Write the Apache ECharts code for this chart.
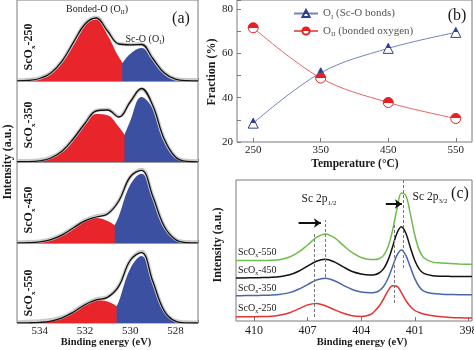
<!DOCTYPE html>
<html>
<head>
<meta charset="utf-8">
<script src="https://cdn.jsdelivr.net/npm/echarts@6.0.0/dist/echarts.min.js"></script>
<style>
html, body { margin: 0; padding: 0; background: #fff; }
#chart { width: 474px; height: 350px; }
</style>
</head>
<body>
<div id="chart"></div>
<script>
const SERIF = '"Liberation Serif", "Times New Roman", serif'
const INK = '#1a1a1a'
const FRAME = '#7a7a7a'

// ---------- panel (a): O 1s fits ----------
const energyA = [535, 534.5, 534, 533.5, 533, 532.5, 532, 531.5, 531, 530.5, 530, 529.5, 529, 528.5, 528, 527.5, 527]

const red250 = [0.1, 0.6, 2.4, 8, 20, 38.5, 56, 61.5, 46, 24, 9, 3.5, 1, 0.3, 0.1, 0, 0]
const blue250 = [[530.35, 17.5], [530, 27], [529.5, 33], [529, 21.5], [528.5, 8], [528, 1.8], [527.5, 0.3], [527, 0]]
const fit250 = [0.2, 0.7, 2.5, 8.1, 20.2, 38.8, 56.8, 63, 50, 37, 36.2, 36.5, 22.5, 8.3, 1.9, 0.3, 0.1]
const raw250 = [0.8, 1.5, 3, 8.5, 20.5, 39, 57.5, 63.8, 50.5, 37.2, 36.5, 37, 22.8, 8.6, 2.3, 1.2, 1.3]

const red350 = [0.2, 0.3, 1.1, 3.9, 10.9, 23.1, 38, 48, 46.8, 35.1, 20.3, 9.1, 3.1, 0.8, 0.2, 0, 0]
const blue350 = [[530.25, 27], [530, 40.8], [529.5, 65.1], [529, 53.3], [528.5, 22.4], [528, 4.8], [527.5, 0.5], [527, 0]]
const fit350 = [0.3, 0.4, 1.2, 4, 11, 23.5, 38.5, 51, 52, 45, 60, 73.5, 56.5, 23.2, 5, 0.6, 0.1]
const raw350 = [1.5, 1.2, 2, 4.8, 11.5, 24, 39, 51.5, 52.5, 45.5, 60, 73, 57, 23.5, 5.5, 1.5, 1]

const red450 = [0.1, 0.3, 1.1, 3.4, 8.1, 15.2, 22.1, 25, 22.1, 15.2, 8.1, 3.4, 1.1, 0.3, 0.05, 0, 0]
const blue450 = [[530.68, 17.8], [530.5, 26.8], [530, 57.9], [529.5, 69.2], [529, 45.7], [528.5, 16.7], [528, 3.4], [527.5, 0.4], [527, 0]]
const fit450 = [0.1, 0.3, 1.1, 3.4, 8.1, 15.2, 22.2, 26, 29, 42, 66, 72.6, 46.8, 17, 3.5, 0.4, 0.05]
const raw450 = [0.8, 1.2, 1.8, 4, 8.8, 15.8, 23, 27, 29.5, 42.5, 66, 73.5, 47.5, 17.5, 4.2, 1.3, 1]

const red550 = [0, 0.1, 0.5, 1.8, 5.1, 11, 18.2, 22.7, 21.5, 15.4, 8.4, 3.4, 1.1, 0.3, 0.05, 0, 0]
const blue550 = [[530.6, 16.6], [530.5, 21.4], [530, 54.1], [529.5, 67], [529, 40.7], [528.5, 12.1], [528, 1.7], [527.5, 0.1], [527, 0]]
const fit550 = [0.1, 0.2, 0.6, 1.9, 5.2, 11, 18.3, 23.1, 25.6, 36.8, 62.5, 70.4, 41.8, 12.4, 1.8, 0.1, 0]
const raw550 = [0.8, 1.5, 2, 3.2, 6, 11.8, 19, 24, 26.2, 37.3, 62.5, 71.5, 42.5, 13, 2.4, 1, 0.8]

const subLabels = ['250', '350', '450', '550']
const ticksA = [534, 532, 530, 528]

// ---------- panel (b): fractions ----------
const temps = [250, 350, 450, 550]
const fracOI = [28.5, 51.2, 62.2, 69.4]
const fracOII = [71.5, 48.8, 37.8, 30.6]

// ---------- panel (c): Sc 2p ----------
const energyC = [411, 410.5, 410, 409.5, 409, 408.5, 408, 407.5, 407, 406.5, 406, 405.5, 405, 404.5, 404, 403.5, 403.25, 403, 402.75, 402.5, 402.25, 402, 401.75, 401.5, 401.25, 401, 400.75, 400.5, 400, 399.5, 399, 398.5, 398, 397.8]
const sc250 = [4.2, 4.3, 4.3, 4.4, 4.8, 6.0, 8.3, 12.1, 16.1, 17.6, 15.3, 11.3, 7.8, 5.3, 4.6, 6.2, 9.7, 14.7, 22, 30.1, 35.3, 34.8, 28.4, 20.5, 14.5, 10.5, 8.5, 7, 5.2, 4.2, 3.6, 3.2, 3, 3]
const sc350 = [25.3, 25.4, 25.5, 25.7, 26.0, 26.8, 28.4, 31.7, 36.4, 41.0, 42.8, 40.3, 35.7, 31.5, 29.0, 28.2, 28.6, 30.2, 34.5, 42.5, 54.0, 65.7, 71.0, 65.6, 53.9, 42.4, 34.3, 29.9, 27.4, 26.8, 26.5, 26.3, 26.3, 26.3]
const sc450 = [42.9, 43.1, 43.2, 43.4, 43.7, 44.5, 46.2, 49.8, 54.8, 59.8, 61.8, 59.1, 54.1, 49.5, 47.0, 46.1, 46.3, 48.0, 52.1, 60.6, 73.7, 87.8, 94.2, 87.7, 73.6, 60.5, 51.9, 47.7, 45.3, 44.8, 44.6, 44.5, 44.4, 44.4]
const sc550 = [60.5, 60.5, 60.4, 60.5, 60.7, 61.6, 64.0, 68.8, 76.0, 83.6, 87.1, 83.4, 75.6, 68.3, 63.5, 61.4, 61.4, 62.2, 65.4, 74.1, 90.1, 111.7, 128.1, 125.5, 107.3, 85.8, 70.9, 63.3, 58.9, 58.0, 57.4, 57.0, 56.7, 56.6]
const ticksC = [398, 401, 404, 407, 410]
// peak guides: [energy, from, to]
const guideLines = [[406.65, 4, 88], [406.0, 44, 101], [402.15, 18, 98], [401.63, 53, 141]]
// shift arrows: [from energy, to energy, height]
const shiftArrows = [[407.5, 406.25, 98], [402.62, 401.72, 117]]

const chart = echarts.init(document.getElementById('chart'))

const gridsA = [
  { top: 0, height: 81 },
  { top: 81, height: 81 },
  { top: 162, height: 81 },
  { top: 243, height: 80 },
]
const panelsA = [
  { red: red250, blue: blue250, fit: fit250, raw: raw250 },
  { red: red350, blue: blue350, fit: fit350, raw: raw350 },
  { red: red450, blue: blue450, fit: fit450, raw: raw450 },
  { red: red550, blue: blue550, fit: fit550, raw: raw550 },
]

const grid = []
const xAxis = []
const yAxis = []
const series = []

gridsA.forEach((g, i) => {
  grid.push({ left: 17, width: 181, top: g.top, height: g.height, show: true, borderColor: FRAME, borderWidth: 1, outerBoundsMode: 'none' })
  xAxis.push({
    gridIndex: i, type: 'value', min: 527, max: 535, interval: 1, inverse: true,
    axisLine: { show: false }, splitLine: { show: false },
    axisTick: { inside: true, length: 3, lineStyle: { color: FRAME } },
    axisLabel: {
      show: i === 3, margin: 3, fontSize: 11, fontFamily: SERIF, color: INK,
      formatter: v => (ticksA.includes(v) ? String(v) : ''),
    },
  })
  yAxis.push({ gridIndex: i, type: 'value', min: 0, max: g.height, show: false })
  const p = panelsA[i]
  series.push({
    type: 'line', xAxisIndex: i, yAxisIndex: i, smooth: 0.4, symbol: 'none', silent: true,
    data: energyA.map((e, k) => [e, p.red[k]]),
    lineStyle: { width: 0, opacity: 0 }, areaStyle: { color: '#e8252a', opacity: 1 },
  })
  series.push({
    type: 'line', xAxisIndex: i, yAxisIndex: i, smooth: 0.4, symbol: 'none', silent: true,
    data: p.blue,
    lineStyle: { width: 0, opacity: 0 }, areaStyle: { color: '#3c50a2', opacity: 1 },
  })
  series.push({
    type: 'line', xAxisIndex: i, yAxisIndex: i, smooth: 0.4, symbol: 'none', silent: true,
    data: energyA.map((e, k) => [e, p.raw[k]]),
    lineStyle: { color: '#cbcbcb', width: 3.5 },
  })
  series.push({
    type: 'line', xAxisIndex: i, yAxisIndex: i, smooth: 0.4, symbol: 'none', silent: true,
    data: energyA.map((e, k) => [e, p.fit[k]]),
    lineStyle: { color: '#111', width: 1.3 },
  })
})

// panel (b)
grid.push({ left: 237, width: 235, top: 0, height: 142, show: true, borderColor: FRAME, borderWidth: 1, outerBoundsMode: 'none' })
xAxis.push({
  gridIndex: 4, type: 'value', min: 226, max: 574,
  axisLine: { show: false }, splitLine: { show: false },
  axisTick: { inside: true, length: 4, customValues: temps, lineStyle: { color: FRAME } },
  axisLabel: { customValues: temps, margin: 3, fontSize: 11, fontFamily: SERIF, color: INK },
})
yAxis.push({
  gridIndex: 4, type: 'value', min: 20, max: 84, interval: 10,
  axisLine: { show: false }, splitLine: { show: false },
  axisTick: { inside: true, length: 4, lineStyle: { color: FRAME } },
  axisLabel: { margin: 4, fontSize: 11, fontFamily: SERIF, color: INK, formatter: v => (v % 20 === 0 ? String(v) : '') },
})

function halfFill(c) {
  return new echarts.graphic.LinearGradient(0, 0, 0, 1, [
    { offset: 0, color: c }, { offset: 0.5, color: c },
    { offset: 0.5, color: '#fff' }, { offset: 1, color: '#fff' },
  ])
}

series.push({
  name: 'OI', type: 'line', xAxisIndex: 4, yAxisIndex: 4, smooth: 0.35,
  data: temps.map((t, k) => [t, fracOI[k]]),
  symbol: 'triangle', symbolSize: 10,
  lineStyle: { color: '#7483bb', width: 1 },
  itemStyle: { color: halfFill('#2d3f94'), borderColor: '#2d3f94', borderWidth: 1 },
})
series.push({
  name: 'OII', type: 'line', xAxisIndex: 4, yAxisIndex: 4, smooth: 0.35,
  data: temps.map((t, k) => [t, fracOII[k]]),
  symbol: 'circle', symbolSize: 10,
  lineStyle: { color: '#e56565', width: 1 },
  itemStyle: { color: halfFill('#e42222'), borderColor: '#e42222', borderWidth: 1 },
})

// panel (c)
grid.push({ left: 236, width: 236, top: 180, height: 141, show: true, borderColor: FRAME, borderWidth: 1, outerBoundsMode: 'none' })
xAxis.push({
  gridIndex: 5, type: 'value', min: 397.8, max: 411, inverse: true,
  axisLine: { show: false }, splitLine: { show: false },
  axisTick: { inside: true, length: 4, customValues: ticksC, lineStyle: { color: FRAME } },
  axisLabel: { customValues: ticksC, margin: 4, fontSize: 12, fontFamily: SERIF, color: INK },
})
yAxis.push({ gridIndex: 5, type: 'value', min: 0, max: 141, show: false })

const scCurves = [
  { data: sc250, color: '#e23434' },
  { data: sc350, color: '#4866ad' },
  { data: sc450, color: '#111111' },
  { data: sc550, color: '#6cbd4c' },
]
scCurves.forEach((c, i) => {
  const s = {
    type: 'line', xAxisIndex: 5, yAxisIndex: 5, smooth: 0.35, symbol: 'none', silent: true,
    data: energyC.map((e, k) => [e, c.data[k]]),
    lineStyle: { color: c.color, width: 1.5 },
  }
  if (i === 0) {
    s.markLine = {
      silent: true, symbol: ['none', 'none'], label: { show: false },
      lineStyle: { color: '#777', type: [3, 2], width: 1 },
      data: guideLines.map(d => [{ coord: [d[0], d[1]] }, { coord: [d[0], d[2]] }]),
    }
  }
  if (i === 3) {
    s.markLine = {
      silent: true, symbol: ['none', 'arrow'], symbolSize: 7, label: { show: false },
      lineStyle: { color: '#111', type: 'solid', width: 2 },
      data: shiftArrows.map(d => [{ coord: [d[0], d[2]] }, { coord: [d[1], d[2]] }]),
    }
  }
  series.push(s)
})

// ---------- text ----------
function rich(size, bold) {
  const w = bold ? 'bold' : 'normal'
  return {
    m: { fontFamily: SERIF, fontSize: size, fontWeight: w, fill: INK, lineHeight: size + 3 },
    s: { fontFamily: SERIF, fontSize: Math.round(size * 0.62), fontWeight: w, fill: INK, verticalAlign: 'bottom', lineHeight: Math.round(size * 0.62) },
  }
}
function txt(x, y, text, size, bold, rot) {
  return {
    type: 'text', x, y, rotation: rot || 0, silent: true,
    style: { text, rich: rich(size, bold), align: 'center', verticalAlign: 'middle', fill: INK },
  }
}

const aLabelY = [47, 125, 210, 293]
const graphic = [
  txt(8, 162, '{m|Intensity (a.u.)}', 12, true, Math.PI / 2),
  txt(106, 342, '{m|Binding energy (eV)}', 10.5, true),
  txt(97, 9, '{m|Bonded-O (O}{s|II}{m|)}', 10, false),
  txt(145, 39, '{m|Sc-O (O}{s|I}{m|)}', 10, false),
  txt(181, 19, '{m|(a)}', 16, false),
  txt(212, 72, '{m|Fraction (%)}', 12, true, Math.PI / 2),
  txt(355, 164, '{m|Temperature (°C)}', 11.5, true),
  txt(457, 16, '{m|(b)}', 16, false),
  txt(218, 245, '{m|Intensity (a.u.)}', 12, true, Math.PI / 2),
  txt(362, 342, '{m|Binding energy (eV)}', 10.5, true),
  txt(319, 199, '{m|Sc 2p}{s|1/2}', 11.5, false),
  txt(430, 197, '{m|Sc 2p}{s|3/2}', 11.5, false),
  txt(460, 194, '{m|(c)}', 16, false),
]
subLabels.forEach((t, i) => {
  graphic.push(txt(29, aLabelY[i], '{m|ScO}{s|x}{m|-' + t + '}', 12, true, Math.PI / 2))
})
const cLabelY = [308, 288, 270, 252]
subLabels.forEach((t, i) => {
  graphic.push({
    type: 'text', x: 238, y: cLabelY[i], silent: true,
    style: { text: '{m|ScO}{s|x}{m|-' + t + '}', rich: rich(10, false), align: 'left', verticalAlign: 'middle' },
  })
})

chart.setOption({
  animation: false,
  backgroundColor: '#fff',
  grid, xAxis, yAxis, series, graphic,
  legend: {
    data: ['OI', 'OII'], orient: 'vertical', left: 288, top: 3, itemGap: 5,
    itemWidth: 24, itemHeight: 9,
    textStyle: { rich: rich(11, false) },
    formatter: name => (name === 'OI' ? '{m|O}{s|I}{m| (Sc-O bonds)}' : '{m|O}{s|II}{m| (bonded oxygen)}'),
  },
})
</script>
</body>
</html>
